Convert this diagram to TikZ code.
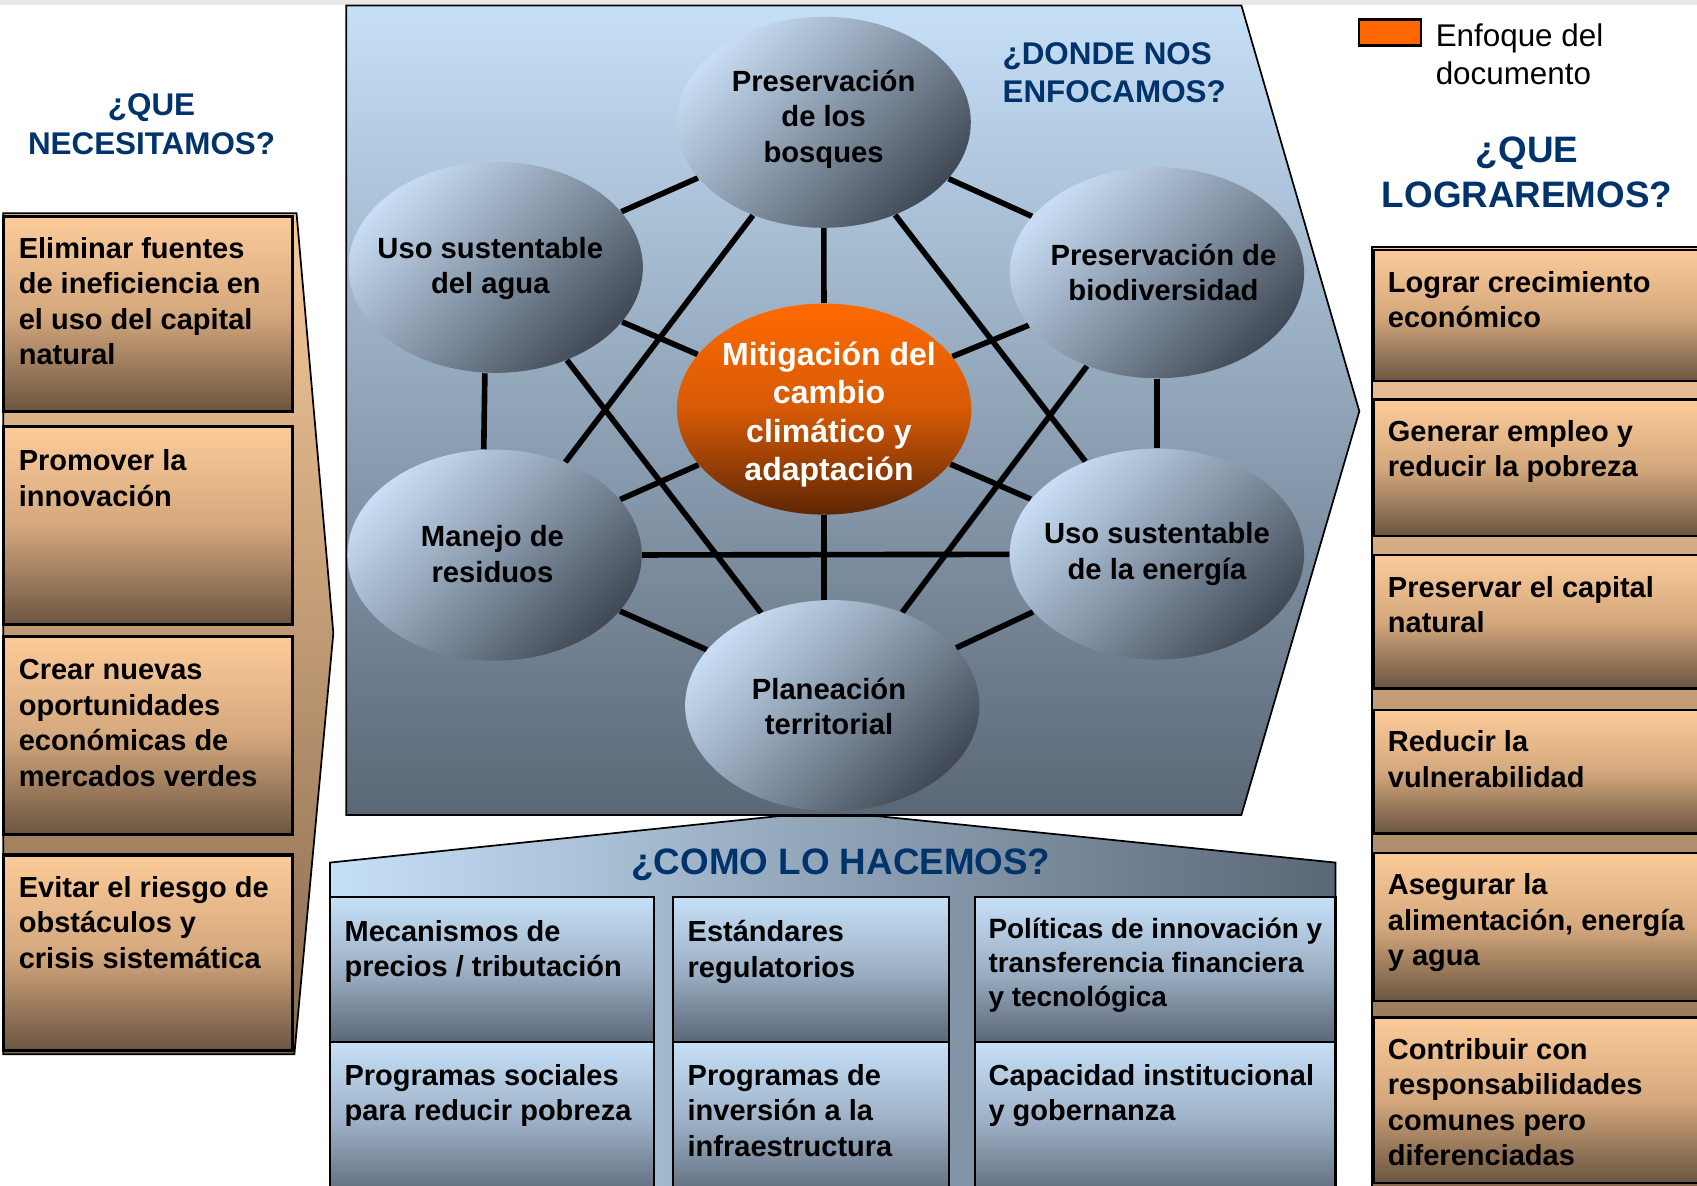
\documentclass[tikz,border=0pt]{standalone}
\usepackage{fontspec}
\setmainfont{Liberation Sans}
\usetikzlibrary{shapes.geometric}
\pgfdeclarelayer{back}
\pgfdeclarelayer{mid}
\pgfsetlayers{back,mid,main}
\definecolor{navy}{HTML}{00336B}
\definecolor{peachT}{HTML}{FCCB99}
\definecolor{peachM}{HTML}{D4A87D}
\definecolor{brownB}{HTML}{6B5541}
\definecolor{bgpeachT}{HTML}{F8CA9B}
\definecolor{bgbrownB}{HTML}{876A4E}
\definecolor{skyT}{HTML}{C6E0F8}
\definecolor{slateB}{HTML}{5A6776}
\definecolor{skyM}{HTML}{9DB0C5}
\definecolor{ellL}{HTML}{C8DDF4}
\definecolor{ellM}{HTML}{8696A8}
\definecolor{ellD}{HTML}{414A56}
\definecolor{orT}{HTML}{FF6A00}
\definecolor{orM}{HTML}{D65A06}
\definecolor{orB}{HTML}{5E2604}
\definecolor{legor}{HTML}{FF6600}
\begin{document}
\begin{tikzpicture}[x=0.5pt,y=-0.5pt,
  tanbox/.style={draw=black, line width=1.4pt, top color=peachT, bottom color=brownB, middle color=peachM},
  rtanbox/.style={draw=black, line width=1.1pt, top color=peachT, bottom color=brownB, middle color=peachM},
  bluebox/.style={draw=black, line width=1pt, top color=skyT, bottom color=slateB, middle color=skyM},
  gell/.style={ellipse, inner sep=0pt, minimum width=136pt, minimum height=97.5pt,
    top color=ellL, bottom color=ellD, middle color=ellM, shading angle=45},
  oell/.style={ellipse, inner sep=0pt, minimum width=136pt, minimum height=97.5pt,
    top color=orT, bottom color=orB, middle color=orM},
  gtxt/.style={inner sep=0pt, align=center, font=\fontsize{13.5}{16.3}\selectfont\bfseries, text=black},
  otxt/.style={inner sep=0pt, align=center, font=\fontsize{14.8}{17.8}\selectfont\bfseries, text=white},
  conn/.style={draw=black, line width=2.6pt},
  btxt/.style={anchor=north west, inner sep=0pt, align=left, font=\fontsize{13.4}{16.4}\selectfont\bfseries},
  hdr/.style={inner sep=0pt, align=center, text=navy}]
\clip (0,0) rectangle (1568,1095);
\begin{pgfonlayer}{back}
  % top grey band
  \fill[gray!18] (0,0) rectangle (1568,5);
  % left chevron
  \path[draw=black, line width=0.8pt, top color=bgpeachT, bottom color=bgbrownB]
    (3,197) -- (274,197) -- (308,585) -- (272,974) -- (3,974) -- cycle;
  \path[tanbox] (3,200) rectangle (270,380);
  \path[tanbox] (3,394) rectangle (270,577);
  \path[tanbox] (3,588) rectangle (270,771);
  \path[tanbox] (3,790) rectangle (270,971);
  % right column
  \path[draw=black, line width=0.8pt, top color=bgpeachT, bottom color=bgbrownB]
    (1268,228) rectangle (1600,1110);
  \path[rtanbox] (1269,231) rectangle (1600,352);
  \path[rtanbox] (1269,369) rectangle (1600,495);
  \path[rtanbox] (1269,513) rectangle (1600,636);
  \path[rtanbox] (1269,656) rectangle (1600,770);
  \path[rtanbox] (1269,788) rectangle (1600,925);
  \path[rtanbox] (1269,940) rectangle (1600,1093);
  % central hexagon
  \path[draw=black, line width=0.8pt, top color=skyT, bottom color=slateB]
    (320,5) -- (1147,5) -- (1256,380) -- (1147,753) -- (320,753) -- cycle;
  % bottom "how" shape
  \path[draw=black, line width=0.8pt, left color=skyT, right color=slateB]
    (305,797) -- (720,754) -- (810,754) -- (1234,797) -- (1234,1110) -- (305,1110) -- cycle;
  \path[bluebox] (305,829) rectangle (604,963);
  \path[bluebox] (622,829) rectangle (877,963);
  \path[bluebox] (901,829) rectangle (1234,963);
  \path[bluebox] (305,963) rectangle (604,1110);
  \path[bluebox] (622,963) rectangle (877,1110);
  \path[bluebox] (901,963) rectangle (1234,1110);
\end{pgfonlayer}

% ellipses
\node[gell] (top) at (761,113) {};
\node[gell] (ul) at (458,247) {};
\node[gell] (ur) at (1069,252) {};
\node[oell] (cen) at (761.5,378) {};
\node[gell] (ll) at (457,513) {};
\node[gell] (lr) at (1069,512) {};
\node[gell] (bot) at (769,652) {};

\node[gtxt] (topt) at (761,110) {Preservación\\de los\\bosques};
\node[gtxt] (ult) at (453,248) {Uso sustentable\\del agua};
\node[gtxt] (urt) at (1075,252) {Preservación de\\biodiversidad};
\node[otxt] (cent) at (766,383) {Mitigación del\\cambio\\climático y\\adaptación};
\node[gtxt] (llt) at (455,512) {Manejo de\\residuos};
\node[gtxt] (lrt) at (1069,512) {Uso sustentable\\de la energía};
\node[gtxt] (bott) at (766,653) {Planeación\\territorial};

\begin{pgfonlayer}{mid}
  \draw[conn] (top) -- (ul);
  \draw[conn] (top) -- (ur);
  \draw[conn] (top) -- (cen);
  \draw[conn] (top) -- (ll);
  \draw[conn] (top) -- (lr);
  \draw[conn] (ul) -- (cen);
  \draw[conn] ([xshift=-5pt]ul.south) -- ([xshift=-5pt]ll.north);
  \draw[conn] (ul) -- (bot);
  \draw[conn] (ur) -- (cen);
  \draw[conn] (ur.south) -- (ur.south |- lr.north);
  \draw[conn] (ur) -- (bot);
  \draw[conn] (cen) -- (ll);
  \draw[conn] (cen) -- (lr);
  \draw[conn] (cen.south) -- (cen.south |- bot.north);
  \draw[conn] (ll) -- (lr);
  \draw[conn] (ll) -- (bot);
  \draw[conn] (lr) -- (bot);
\end{pgfonlayer}

% headers
\node[hdr, font=\fontsize{14.5}{18}\selectfont\bfseries] (hneed) at (140,115) {¿QUE\\NECESITAMOS?};
\node[hdr, align=left, font=\fontsize{14.5}{17.5}\selectfont\bfseries] (hwhere) at (1029.5,67) {¿DONDE NOS\\ENFOCAMOS?};
\node[hdr, font=\fontsize{17}{21}\selectfont\bfseries] (hwhat) at (1411,159) {¿QUE\\LOGRAREMOS?};
\node[hdr, font=\fontsize{17}{21}\selectfont\bfseries] (hhow) at (777,799) {¿COMO LO HACEMOS?};

% legend
\node[draw=black, line width=1pt, fill=legor, minimum width=28.5pt, minimum height=12pt, inner sep=0pt] (legbox) at (1284.5,30) {};
\node[inner sep=0pt, align=left, font=\fontsize{14.5}{17.5}\selectfont] (legtxt) at (1404,50) {Enfoque del\\documento};

% left texts
\node[btxt] (need1) at (17,219) {Eliminar fuentes\\de ineficiencia en\\el uso del capital\\natural};
\node[btxt] (need2) at (17,415) {Promover la\\innovación};
\node[btxt] (need3) at (17,609) {Crear nuevas\\oportunidades\\económicas de\\mercados verdes};
\node[btxt] (need4) at (17,809) {Evitar el riesgo de\\obstáculos y\\crisis sistemática};

% right texts
\node[btxt] (res1) at (1282,250) {Lograr crecimiento\\económico};
\node[btxt] (res2) at (1282,388) {Generar empleo y\\reducir la pobreza};
\node[btxt] (res3) at (1282,532) {Preservar el capital\\natural};
\node[btxt] (res4) at (1282,675) {Reducir la\\vulnerabilidad};
\node[btxt] (res5) at (1282,807) {Asegurar la\\alimentación, energía\\y agua};
\node[btxt] (res6) at (1282,959) {Contribuir con\\responsabilidades\\comunes pero\\diferenciadas};

% bottom texts
\node[btxt] (how1) at (318,850) {Mecanismos de\\precios / tributación};
\node[btxt] (how2) at (635,850) {Estándares\\regulatorios};
\node[btxt, font=\fontsize{12.9}{15.6}\selectfont\bfseries] (how3) at (913,848) {Políticas de innovación y\\transferencia financiera\\y tecnológica};
\node[btxt] (how4) at (318,983) {Programas sociales\\para reducir pobreza};
\node[btxt] (how5) at (635,983) {Programas de\\inversión a la\\infraestructura};
\node[btxt] (how6) at (913,983) {Capacidad institucional\\y gobernanza};
\end{tikzpicture}
\end{document}
